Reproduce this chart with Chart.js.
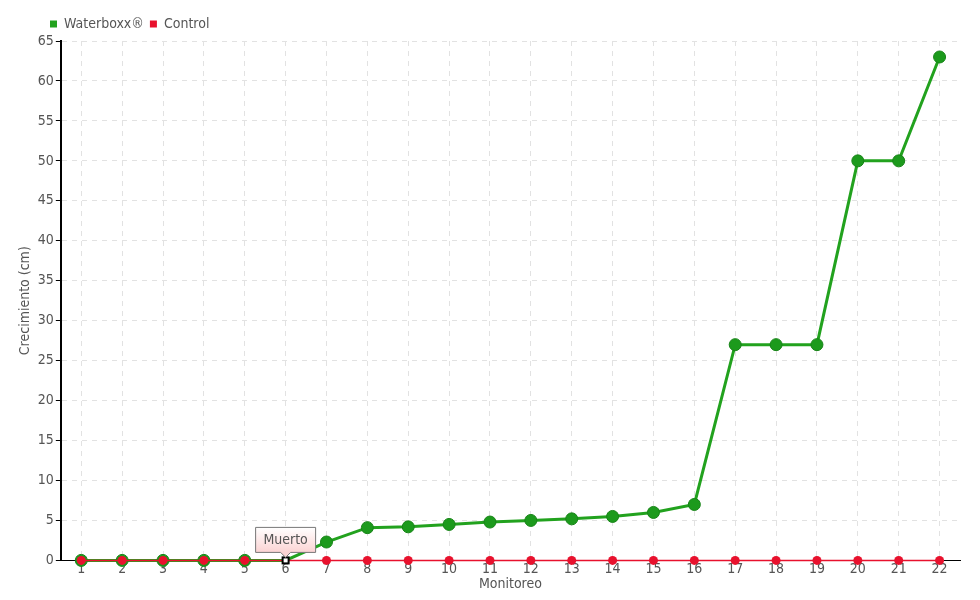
<!DOCTYPE html>
<html>
<head>
<meta charset="utf-8">
<script src="https://cdn.jsdelivr.net/npm/chart.js@4.4.0/dist/chart.umd.min.js"></script>
<style>
  html, body { margin: 0; padding: 0; background: #fff; }
  #wrap { width: 980px; height: 600px; }
</style>
</head>
<body>
<div id="wrap"><canvas id="grafico"></canvas></div>
<script>
// datos
const monitoreos = ["1","2","3","4","5","6","7","8","9","10","11","12","13","14","15","16","17","18","19","20","21","22"];
const waterboxx = [0, 0, 0, 0, 0, 0, 2.3, 4.1, 4.2, 4.5, 4.8, 5.0, 5.2, 5.5, 6.0, 7.0, 27, 27, 27, 50, 50, 63];
const control = [0, 0, 0, 0, 0, 0, 0, 0, 0, 0, 0, 0, 0, 0, 0, 0, 0, 0, 0, 0, 0, 0];
const yTicks = [0, 5, 10, 15, 20, 25, 30, 35, 40, 45, 50, 55, 60, 65];
const indiceMuerto = 5;
const textoMuerto = "Muerto";

const fuente = "'DejaVu Sans Condensed', 'Liberation Sans Narrow', sans-serif";
const verde = "#22a21e";
const verdeOscuro = "#178417";
const rojo = "#e8112d";

// el punto "Muerto" se dibuja aparte
const radiosVerde = waterboxx.map((v, i) => i === indiceMuerto ? 0 : 6);
const radiosRojo = control.map((v, i) => i === indiceMuerto ? 0 : 4.5);

const muertoPlugin = {
  id: "muerto",
  beforeDraw(chart) {
    // mover la leyenda a la derecha del titulo del eje
    chart.legend.left = 44;
  },
  afterDatasetsDraw(chart) {
    const el = chart.getDatasetMeta(0).data[indiceMuerto];
    if (!el) return;
    const ctx = chart.ctx;
    const x = el.x, y = el.y;
    // cuadrado blanco
    ctx.save();
    ctx.fillStyle = "#fff";
    ctx.strokeStyle = "#000";
    ctx.lineWidth = 2;
    ctx.fillRect(x - 3, y - 3, 6, 6);
    ctx.strokeRect(x - 3, y - 3, 6, 6);

    // caja de etiqueta
    const w = 60, h = 25;
    const bx = x - w / 2, by = y - 8 - h;
    const grad = ctx.createLinearGradient(0, by, 0, by + h);
    grad.addColorStop(0, "#ffffff");
    grad.addColorStop(1, "#fbd3d3");
    ctx.beginPath();
    ctx.moveTo(bx, by);
    ctx.lineTo(bx + w, by);
    ctx.lineTo(bx + w, by + h);
    ctx.lineTo(x + 5, by + h);
    ctx.lineTo(x, by + h + 5);
    ctx.lineTo(x - 5, by + h);
    ctx.lineTo(bx, by + h);
    ctx.closePath();
    ctx.fillStyle = grad;
    ctx.fill();
    ctx.strokeStyle = "#777";
    ctx.lineWidth = 1;
    ctx.stroke();
    ctx.fillStyle = "#555";
    ctx.font = "14px " + fuente;
    ctx.textAlign = "center";
    ctx.textBaseline = "middle";
    ctx.fillText(textoMuerto, x, by + h / 2);
    ctx.restore();
  }
};

const ctx = document.getElementById("grafico").getContext("2d");
const chart = new Chart(ctx, {
  type: "line",
  data: {
    labels: monitoreos,
    datasets: [
      {
        label: "Waterboxx®",
        data: waterboxx,
        borderColor: verde,
        backgroundColor: verde,
        borderWidth: 3,
        pointRadius: radiosVerde,
        pointBackgroundColor: "#1c9a1c",
        pointBorderColor: verdeOscuro,
        pointBorderWidth: 1,
        tension: 0,
        clip: false,
        order: 2
      },
      {
        label: "Control",
        data: control,
        borderColor: rojo,
        backgroundColor: rojo,
        borderWidth: 1.5,
        pointRadius: radiosRojo,
        pointBackgroundColor: rojo,
        pointBorderWidth: 0,
        tension: 0,
        clip: false,
        order: 1
      }
    ]
  },
  options: {
    responsive: true,
    maintainAspectRatio: false,
    animation: false,
    layout: { padding: { top: 11, right: 20, bottom: 7, left: 17 } },
    plugins: {
      legend: {
        position: "top",
        align: "start",
        labels: {
          boxWidth: 7,
          boxHeight: 7,
          padding: 6,
          color: "#555",
          font: { family: fuente, size: 14 },
          sort: (a, b) => a.datasetIndex - b.datasetIndex,
          generateLabels(chart) {
            const items = Chart.defaults.plugins.legend.labels.generateLabels(chart);
            items.forEach(it => { it.lineWidth = 0; });
            return items;
          }
        }
      },
      tooltip: { enabled: false }
    },
    scales: {
      x: {
        offset: true,
        border: { display: true, color: "#000", width: 1, dash: [5, 5] },
        grid: {
          color: "#e2e2e2",
          drawTicks: false
        },
        ticks: {
          color: "#555",
          padding: 1,
          font: { family: fuente, size: 14 }
        },
        title: {
          display: true,
          text: "Monitoreo",
          color: "#555",
          padding: { top: -3, bottom: 0 },
          font: { family: fuente, size: 14 }
        }
      },
      y: {
        min: 0,
        max: 65,
        afterBuildTicks(axis) {
          axis.ticks = yTicks.map(v => ({ value: v }));
        },
        border: { display: true, color: "#000", width: 2, dash: [5, 5] },
        grid: {
          color: "#e2e2e2",
          tickLength: 5,
          tickColor: "#000",
          tickBorderDash: []
        },
        ticks: {
          color: "#555",
          padding: 2,
          font: { family: fuente, size: 14 }
        },
        title: {
          display: true,
          text: "Crecimiento (cm)",
          color: "#555",
          padding: { top: 0, bottom: 2 },
          font: { family: fuente, size: 14 }
        }
      }
    }
  },
  plugins: [muertoPlugin]
});
</script>
</body>
</html>
